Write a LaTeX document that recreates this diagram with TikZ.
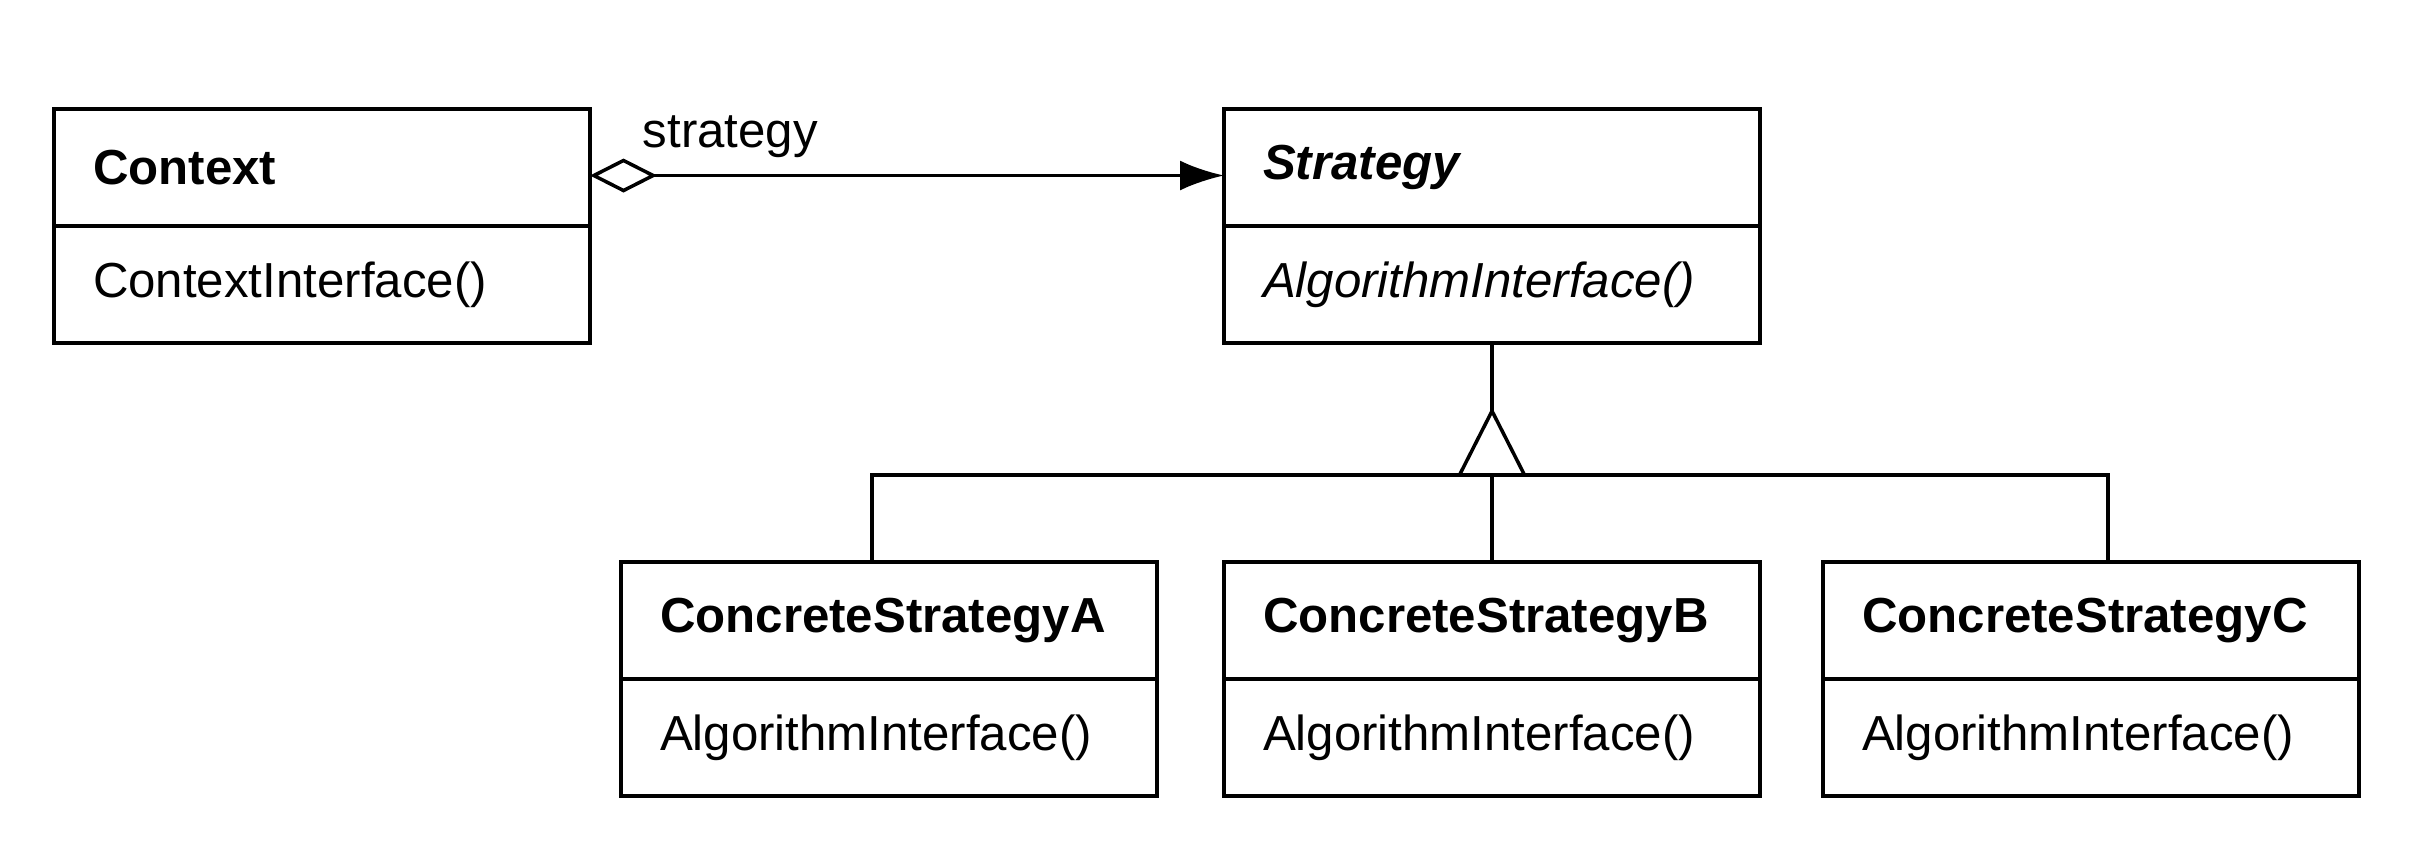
\documentclass[tikz,border=0pt]{standalone}
\usepackage{fontspec}
\setmainfont{Liberation Sans}
\usetikzlibrary{positioning,arrows.meta,calc}

\begin{document}
\begin{tikzpicture}[
    node distance=0cm,
    clsname/.style={draw, rectangle, align=left, minimum width=5.36cm, minimum height=1.17cm, text width=4.58cm, inner xsep=0.39cm, outer sep=0pt, line width=1pt, font=\fontsize{14}{17}\selectfont\bfseries},
    clsops/.style={clsname, font=\fontsize{14}{17}\selectfont},
    aggr/.style={{Diamond[open,length=0.67cm,width=0.34cm]}-{Latex[length=0.44cm,width=0.3cm]}, line width=1pt},
    link/.style={line width=1pt}
]
\useasboundingbox (0,0) rectangle (24.23,-8.56);

% Kontext und abstrakte Strategie
\node[clsname] (ctx) at (3.22,-1.675) {Context};
\node[clsops, below=of ctx] (ctxops) {ContextInterface()};
\node[clsname, right=6.34cm of ctx] (strat) {\textit{Strategy}};
\node[clsops, below=of strat] (stratops) {\textit{AlgorithmInterface()}};

% Konkrete Strategien
\node[clsname, below=2.19cm of stratops] (concB) {ConcreteStrategyB};
\node[clsops, below=of concB] (concBops) {AlgorithmInterface()};
\node[clsname, left=0.67cm of concB] (concA) {ConcreteStrategyA};
\node[clsops, below=of concA] (concAops) {AlgorithmInterface()};
\node[clsname, right=0.63cm of concB] (concC) {ConcreteStrategyC};
\node[clsops, below=of concC] (concCops) {AlgorithmInterface()};

% Aggregation
\draw[aggr] ([yshift=-0.08cm]ctx.east) -- node[pos=0, anchor=base west, inner sep=0pt, xshift=0.51cm, yshift=0.28cm, font=\fontsize{14}{17}\selectfont] (role) {strategy} ([yshift=-0.08cm]strat.west);

% Vererbung
\coordinate (apex) at ($(stratops.south)+(0,-0.68)$);
\coordinate (hub) at ($(stratops.south)+(0,-1.32)$);
\draw[link] (stratops.south) -- (apex);
\draw[link] (apex) -- ($(hub)+(-0.325,0)$) -- ($(hub)+(0.325,0)$) -- cycle;
\draw[link] ([xshift=-0.17cm]concA.north) |- (hub) -| ([xshift=0.17cm]concC.north);
\draw[link] (hub) -- (concB.north);

\end{tikzpicture}
\end{document}
